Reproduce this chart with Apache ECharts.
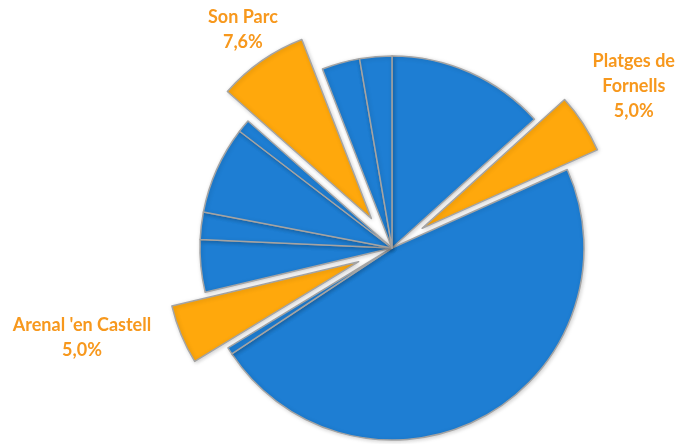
<!DOCTYPE html>
<html>
<head>
<meta charset="utf-8">
<script src="https://cdn.jsdelivr.net/npm/echarts@6/dist/echarts.min.js"></script>
<style>
  html, body { margin: 0; padding: 0; background: #fff; }
  #chart { width: 677px; height: 444px; }
</style>
</head>
<body>
<div id="chart"></div>
<script>
// slice shares (%), clockwise from 12 o'clock
const names = ["", "Platges de\nFornells", "", "", "Arenal 'en Castell", "", "", "", "", "Son Parc", "", ""];
const shares = [13.3, 5.0, 47.4, 0.6, 5.0, 4.4, 2.3, 7.4, 1.1, 7.6, 3.2, 2.7];
const highlighted = [false, true, false, false, true, false, false, false, false, true, false, false];

const BLUE = "#1E7ED3";
const ORANGE = "#FFA80C";
const LABEL = "#F7981D";

// hidden leader lengths [length, length2] that push each label to its spot
const leaders = {
  1: [68.7, -6.7],
  4: [6.9, 92.7],
  9: [37.9, -3.1]
};

const chart = echarts.init(document.getElementById("chart"), null, { renderer: "canvas" });

const pieData = shares.map(function (v, i) {
  const hot = highlighted[i];
  const item = {
    name: names[i],
    value: v,
    selected: hot,
    itemStyle: { color: hot ? ORANGE : BLUE },
    select: { itemStyle: { color: hot ? ORANGE : BLUE } },
    label: { show: hot }
  };
  if (leaders[i]) {
    item.labelLine = { show: false, length: leaders[i][0], length2: leaders[i][1] };
  }
  return item;
});

chart.setOption({
  animation: false,
  series: [
    {
      type: "pie",
      center: [392, 248],
      radius: 192,
      startAngle: 90,
      clockwise: true,
      selectedMode: "multiple",
      selectedOffset: 36,
      avoidLabelOverlap: false,
      itemStyle: {
        borderColor: "#a4a4a4",
        borderWidth: 1.5,
        shadowColor: "rgba(0,0,0,0.18)",
        shadowBlur: 4,
        shadowOffsetX: 1,
        shadowOffsetY: 1
      },
      emphasis: { disabled: true },
      label: {
        position: "outside",
        distanceToLabelLine: 0,
        color: LABEL,
        fontFamily: "Lato, sans-serif",
        fontWeight: "bold",
        fontSize: 18,
        lineHeight: 25,
        formatter: function (p) {
          return p.name + "\n" + p.value.toFixed(1).replace(".", ",") + "%";
        }
      },
      labelLine: { show: false },
      labelLayout: function () {
        return { align: "center", verticalAlign: "middle" };
      },
      data: pieData
    }
  ]
});

window.addEventListener("resize", function () { chart.resize(); });
</script>
</body>
</html>
